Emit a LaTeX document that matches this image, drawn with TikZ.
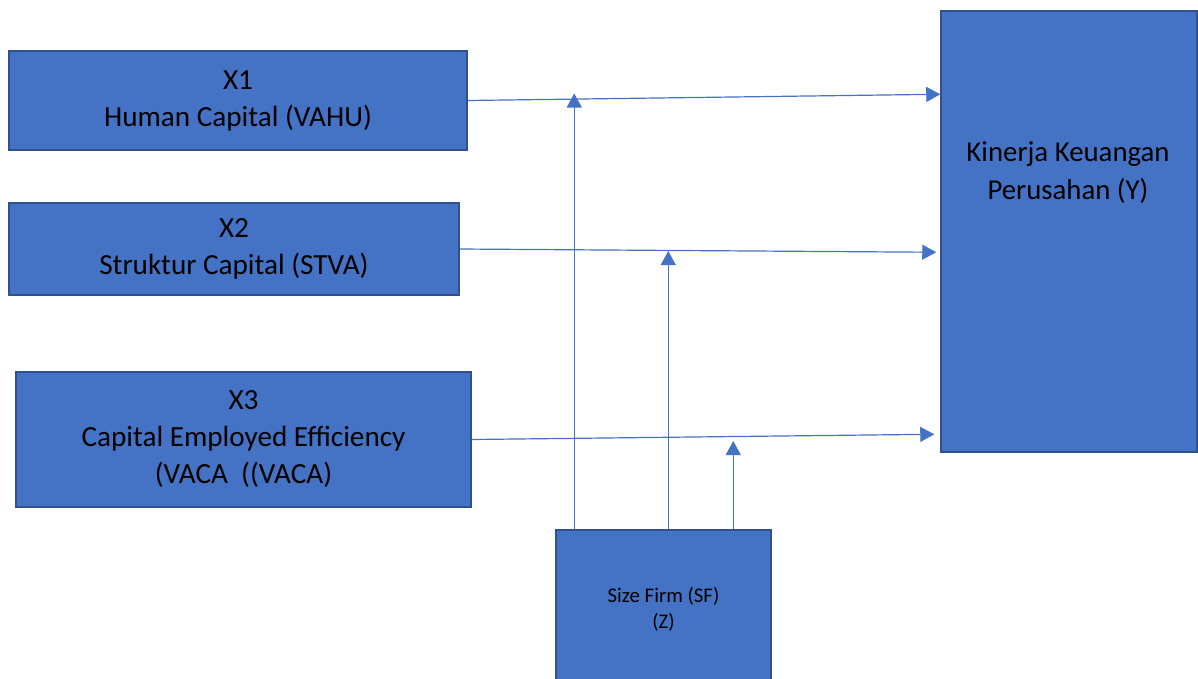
\documentclass[tikz,border=0pt]{standalone}
\usepackage{fontspec}
\setmainfont{Carlito}
\usetikzlibrary{arrows.meta,calc}
\definecolor{boxblue}{HTML}{4472C4}
\definecolor{edgeblue}{HTML}{2F528F}
\tikzset{
    block/.style = {draw=edgeblue, fill=boxblue, rectangle,
        line width=1.5pt, inner sep=0pt, align=center,
        font=\fontsize{29.2}{37}\selectfont},
    arrow/.style = {draw=boxblue, line width=1.2pt,
        -{Triangle[width=15pt,length=14pt]}}
}
\begin{document}
\begin{tikzpicture}[x=1pt,y=-1pt]
                \useasboundingbox (0,0) rectangle (1198,678);
                \node[block,minimum width=458pt,minimum height=99pt] (x1) at (238,100.5) {X1\\Human Capital (VAHU)};
                \node[block,minimum width=450pt,minimum height=92pt] (x2) at (234,249) {X2\\Struktur Capital (STVA)};
                \node[block,minimum width=455pt,minimum height=135pt] (x3) at (243.5,439.5) {X3\\Capital Employed Efficiency\\(VACA\ \ ((VACA)};
                \node[block,minimum width=256pt,minimum height=441pt] (ky) at (1069,231.5) {};
                \node[align=center,font=\fontsize{28.8}{38}\selectfont] (kytext) at (1068,173) {Kinerja Keuangan\\Perusahan (Y)};
                \node[block,minimum width=215pt,minimum height=158pt,font=\fontsize{20.8}{26}\selectfont] (zf) at (663.5,609) {Size Firm (SF)\\(Z)};
                \draw [arrow] (x1.east) -- ($(ky.north west)+(0,84)$);
                \draw [arrow] (x2.east) -- ($(ky.north west)+(-4,242)$);
                \draw [arrow] (x3.east) -- ($(ky.north west)+(-6,424)$);
                \coordinate (s1) at ($(zf.north west)+(19,0)$);
                \coordinate (s2) at ($(zf.north west)+(113,0)$);
                \coordinate (s3) at ($(zf.north west)+(178,0)$);
                \draw [arrow] (s1) -- ([yshift=7pt]s1 |- x1.east);
                \draw [arrow] (s2) -- ([yshift=-2pt]s2 |- x2.east);
                \draw [arrow] (s3) -- ([yshift=-1.5pt]s3 |- x3.east);
            \end{tikzpicture}
\end{document}
